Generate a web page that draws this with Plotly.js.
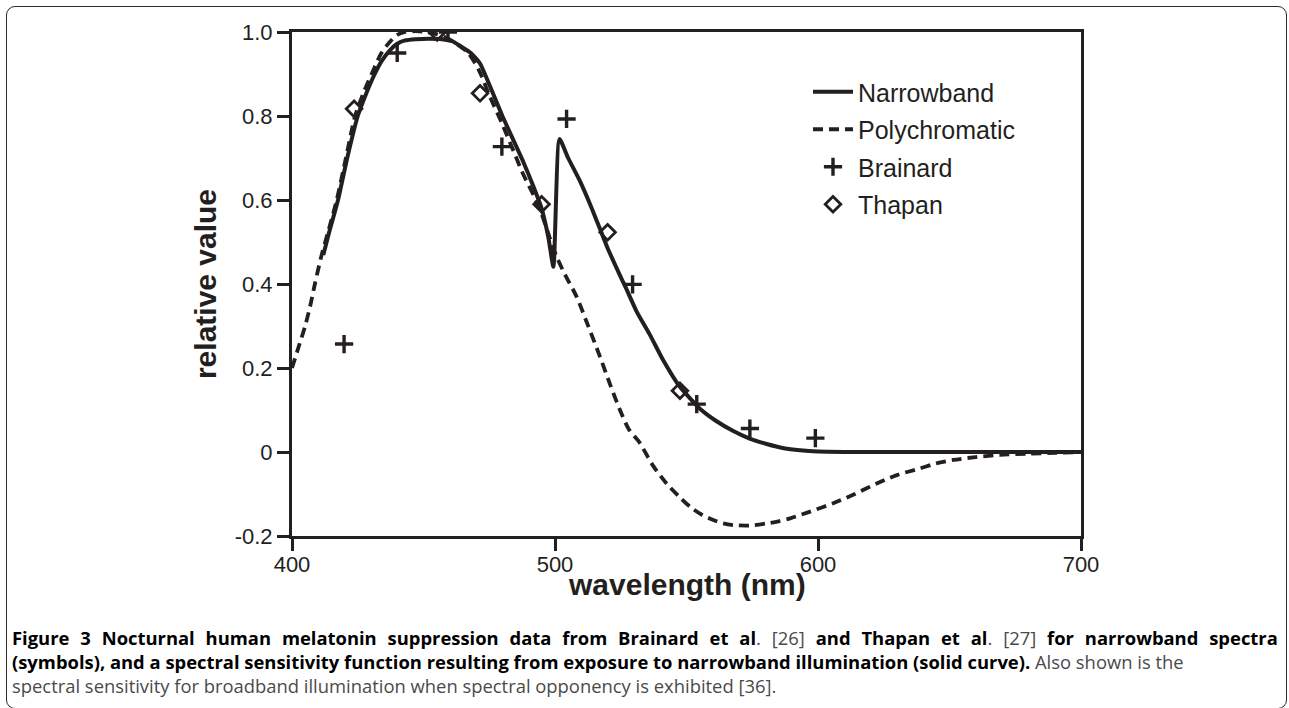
<!DOCTYPE html>
<html>
<head>
<meta charset="utf-8">
<script src="https://cdn.plot.ly/plotly-3.0.1.min.js"></script>
<style>
  html, body { margin: 0; padding: 0; background: #ffffff; overflow: hidden; }
  #wrap { position: relative; width: 1289px; height: 708px; }
  #chart { position: absolute; left: 0; top: 0; width: 1289px; height: 708px; }
  #frame { position: absolute; left: 6px; top: 6px; width: 1281px; height: 703px; box-sizing: border-box;
           border: 1.6px solid #2b2b2b; border-radius: 9px; pointer-events: none; }
</style>
</head>
<body>
<div id="wrap">
  <div id="chart"></div>
  <div id="frame"></div>
</div>
<script>
// ---- data ----
const narrowbandWl = [411.9, 414, 417.5, 421, 425, 428, 431, 434, 437.3, 440, 443, 447, 452, 457, 461, 464.4, 468, 471.5, 476, 480, 484, 488, 491.8, 494.9, 497.5, 499.4, 501.7, 505, 509.5, 514, 519.7, 524, 527, 531, 536, 541, 546.9, 551, 555.1, 561, 567.8, 574, 580.5, 587, 593.2, 600, 610, 650, 700];
const narrowbandVal = [0.469, 0.52, 0.6, 0.7, 0.8, 0.85, 0.894, 0.93, 0.957, 0.972, 0.98, 0.983, 0.984, 0.983, 0.978, 0.965, 0.95, 0.925, 0.86, 0.8, 0.745, 0.69, 0.632, 0.58, 0.51, 0.441, 0.745, 0.7, 0.645, 0.58, 0.49, 0.43, 0.39, 0.335, 0.28, 0.22, 0.16, 0.13, 0.103, 0.075, 0.05, 0.032, 0.019, 0.009, 0.004, 0.001, 0, 0, 0];

const polyWl = [400, 402.5, 405, 407, 408.7, 411.3, 414, 417, 420.5, 424, 427.5, 431, 434, 437, 440, 443, 447, 451, 455, 459, 463, 467, 471, 475, 480, 484, 488, 492, 495, 498, 500.6, 504, 508.2, 512, 517.1, 521, 524.7, 528, 532.3, 537, 542.4, 547, 551.3, 556, 560.2, 564, 567.8, 574, 580.5, 585, 589.4, 597, 605.8, 614, 622.3, 630, 638.8, 645, 651.4, 660, 669.2, 680, 690, 700];
const polyVal = [0.2, 0.25, 0.3, 0.35, 0.4, 0.47, 0.53, 0.6, 0.7, 0.8, 0.86, 0.91, 0.95, 0.975, 0.993, 1.0, 1.002, 1.0, 0.995, 0.985, 0.97, 0.95, 0.91, 0.85, 0.78, 0.72, 0.66, 0.61, 0.565, 0.51, 0.465, 0.42, 0.37, 0.31, 0.227, 0.16, 0.1, 0.055, 0.021, -0.03, -0.075, -0.105, -0.13, -0.15, -0.162, -0.17, -0.174, -0.175, -0.17, -0.165, -0.158, -0.142, -0.122, -0.1, -0.075, -0.055, -0.039, -0.027, -0.019, -0.012, -0.007, -0.004, -0.002, 0];

const brainardWl = [419.8, 440, 459.3, 479.8, 504.4, 529.5, 553.9, 574.1, 599];
const brainardVal = [0.257, 0.95, 1.0, 0.727, 0.793, 0.399, 0.114, 0.056, 0.033];

const thapanWl = [423.6, 455.2, 471.5, 494.9, 520, 547.5];
const thapanVal = [0.817, 0.999, 0.854, 0.59, 0.523, 0.146];

const xTickVals = [400, 500, 600, 700];
const xTickText = ["400", "500", "600", "700"];
const yTickVals = [-0.2, 0, 0.2, 0.4, 0.6, 0.8, 1.0];
const yTickText = ["-0.2", "0", "0.2", "0.4", "0.6", "0.8", "1.0"];

const seriesNames = ["Narrowband", "Polychromatic", "Brainard", "Thapan"];
const xTitle = "wavelength (nm)";
const yTitle = "relative value";

const TS = "\u2009\u2009 "; // widened space used to justify the first caption line
const G = "#4a4a4a";
const captionLines = [
  ["<b>Figure", "3", "Nocturnal", "human", "melatonin", "suppression", "data", "from", "Brainard", "et", "al</b><span style=\"color:" + G + "\">.", "[26]</span>", "<b>and", "Thapan", "et", "al</b><span style=\"color:" + G + "\">.", "[27]</span>", "<b>for", "narrowband", "spectra</b>"].join(TS),
  "<b>(symbols), and a spectral sensitivity function resulting from exposure to narrowband illumination (solid curve).</b> <span style=\"color:" + G + "\">Also shown is the</span>",
  "<span style=\"color:" + G + "\">spectral sensitivity for broadband illumination when spectral opponency is exhibited [36].</span>"
];

// ---- drawing ----
const ink = "#231f20";
const L = 292, R = 1081, T = 32, B = 536;
const px2paperX = p => (p - L) / (R - L);
const px2paperY = p => (B - p) / (B - T);

const traces = [
  { x: narrowbandWl, y: narrowbandVal, name: seriesNames[0], mode: "lines", legendgroup: "a",
    line: { color: ink, width: 4, shape: "spline", smoothing: 0.5 } },
  { x: polyWl, y: polyVal, name: seriesNames[1], mode: "lines", legendgroup: "b",
    line: { color: ink, width: 3.8, dash: "10px,6px", shape: "spline", smoothing: 0.8 } },
  { x: brainardWl, y: brainardVal, name: seriesNames[2], mode: "markers", legendgroup: "c",
    marker: { symbol: "cross-thin-open", size: 13, color: ink, line: { color: ink, width: 3.4 } } },
  { x: thapanWl, y: thapanVal, name: seriesNames[3], mode: "markers", legendgroup: "d",
    marker: { symbol: "diamond-open", size: 12, color: ink, line: { color: ink, width: 2.8 } } }
];

const fontAx = "Liberation Sans, Arial, sans-serif";

const annotations = [
  {
    text: captionLines.join("<br>"), xref: "paper", yref: "paper", showarrow: false,
    x: px2paperX(10), xanchor: "left",
    y: px2paperY(623), yanchor: "top",
    align: "left",
    font: { family: "Open Sans, sans-serif", size: 18.4, color: "#000" }
  },
  {
    text: "<b>" + xTitle + "</b>", xref: "paper", yref: "paper", showarrow: false,
    x: 0.5, xanchor: "center",
    y: px2paperY(584), yanchor: "middle",
    font: { family: fontAx, size: 30, color: ink }
  }
];

const layout = {
  width: 1289, height: 708,
  margin: { l: L, r: 1289 - R, t: T, b: 708 - B, pad: 0 },
  paper_bgcolor: "#ffffff", plot_bgcolor: "#ffffff",
  showlegend: true,
  legend: {
    x: px2paperX(808), xanchor: "left",
    y: px2paperY(69), yanchor: "top",
    font: { family: fontAx, size: 25, color: ink },
    bgcolor: "rgba(0,0,0,0)", borderwidth: 0,
    traceorder: "grouped", tracegroupgap: 2, itemwidth: 40
  },
  xaxis: {
    range: [400, 700], tickmode: "array", tickvals: xTickVals, ticktext: xTickText,
    showgrid: false, zeroline: false,
    showline: true, linecolor: ink, linewidth: 3, mirror: true,
    ticks: "outside", ticklen: 12, tickwidth: 3, tickcolor: ink,
    ticklabelstandoff: -5,
    tickfont: { family: fontAx, size: 22, color: ink }
  },
  yaxis: {
    range: [-0.2, 1.0], tickmode: "array", tickvals: yTickVals, ticktext: yTickText,
    showgrid: false, zeroline: false,
    showline: true, linecolor: ink, linewidth: 3, mirror: true,
    ticks: "outside", ticklen: 12, tickwidth: 3, tickcolor: ink,
    tickfont: { family: fontAx, size: 22, color: ink },
    title: { text: yTitle, font: { family: fontAx, size: 30, weight: "bold", color: ink }, standoff: 10 }
  },
  annotations: annotations
};

Plotly.newPlot("chart", traces, layout, { displayModeBar: false, staticPlot: true });
</script>
</body>
</html>
